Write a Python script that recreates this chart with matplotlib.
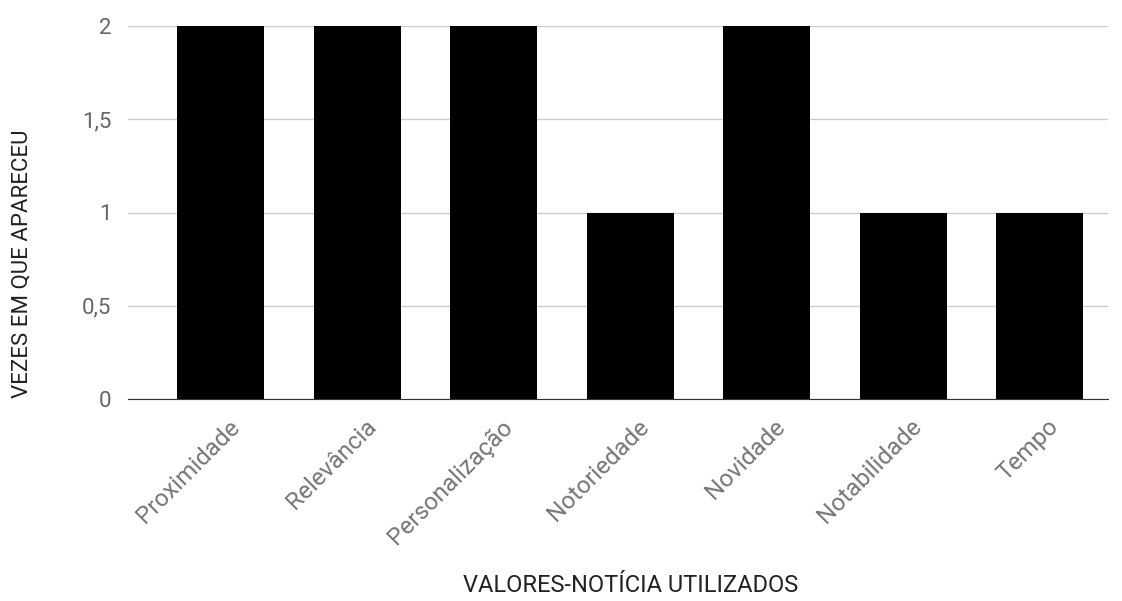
import matplotlib.pyplot as plt
import matplotlib.transforms as mtransforms
import numpy as np

categorias = ["Proximidade", "Relevância", "Personalização", "Notoriedade",
              "Novidade", "Notabilidade", "Tempo"]
vezes = [2, 2, 2, 1, 2, 1, 1]
yticks = [0, 0.5, 1, 1.5, 2]
ytick_labels = ["0", "0,5", "1", "1,5", "2"]

plt.rcParams['font.family'] = ['Roboto', 'DejaVu Sans']

W, H = 1122, 601
fig = plt.figure(figsize=(W / 100, H / 100), dpi=100)
ax = fig.add_axes([128 / W, 1 - 399 / H, (1108 - 128) / W, (399 - 26) / H])

x = np.arange(len(categorias))
ax.bar(x, vezes, width=0.64, color="black", zorder=3)

ax.set_xlim(-0.68, 6.5)
ax.set_ylim(0, 2)
ax.set_yticks(yticks)
ax.set_yticklabels(ytick_labels)
ax.set_xticks(x)
ax.set_xticklabels(categorias, rotation=45, ha="right", rotation_mode="anchor")

ax.grid(axis="y", color="#cccccc", linewidth=1, zorder=0)
for s in ["top", "right", "left"]:
    ax.spines[s].set_visible(False)
ax.spines["bottom"].set_color("#333333")
ax.spines["bottom"].set_zorder(4)
ax.tick_params(axis="y", length=0, colors="#666666", labelsize=16, pad=12)
ax.tick_params(axis="x", length=0, colors="#757575", labelsize=17.5, pad=8)

# nudge rotated labels, like the original
off = mtransforms.ScaledTranslation(7 / 100, -5 / 100, fig.dpi_scale_trans)
for lab in ax.get_xticklabels():
    lab.set_transform(lab.get_transform() + off)

fig.text(22 / W, 1 - 264 / H, "VEZES EM QUE APARECEU", rotation=90,
         ha="center", va="center", fontsize=16, color="#222222")
fig.text(631 / W, 1 - 586 / H, "VALORES-NOTÍCIA UTILIZADOS",
         ha="center", va="center", fontsize=17, color="#222222")

fig.savefig("out.png", dpi=100)
